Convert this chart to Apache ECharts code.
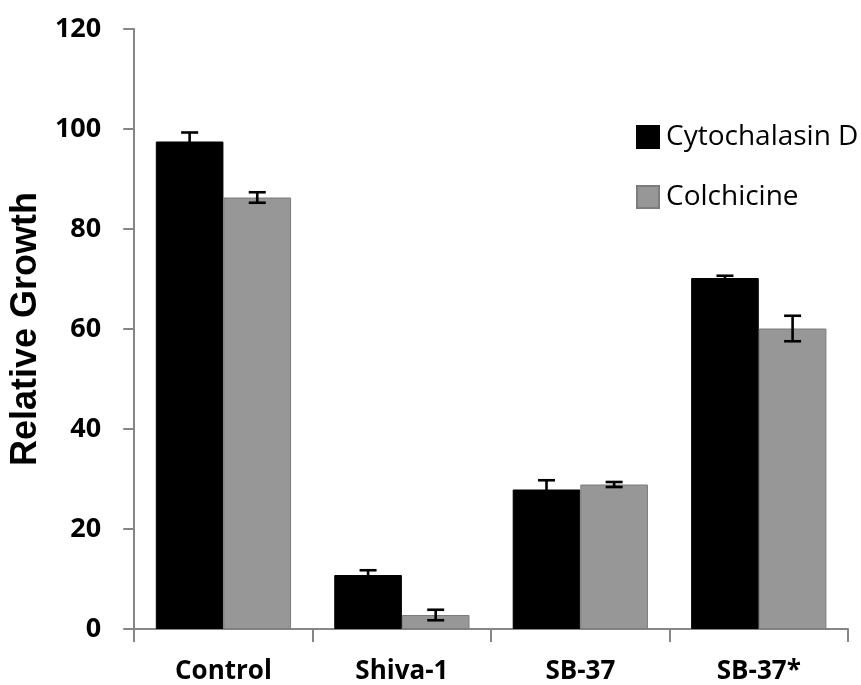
<!DOCTYPE html>
<html>
<head>
<meta charset="utf-8">
<script src="https://cdn.jsdelivr.net/npm/echarts@6/dist/echarts.min.js"></script>
<style>
  html, body { margin: 0; padding: 0; background: #ffffff; }
  #chart { width: 861px; height: 685px; }
</style>
</head>
<body>
<div id="chart"></div>
<script>
// Relative growth under cytoskeletal drugs, mean with error
const categories = ['Control', 'Shiva-1', 'SB-37', 'SB-37*'];
const seriesNames = ['Cytochalasin D', 'Colchicine'];
const cytoValues = [97.5, 10.8, 27.9, 70.2];
const cytoErrors = [1.8, 0.95, 1.85, 0.45];
const colchValues = [86.3, 2.8, 28.9, 60.1];
const colchErrors = [1.05, 1.05, 0.5, 2.55];
const yMin = 0;
const yMax = 120;
const yStep = 20;

const CAT_GAP = 0.242;   // share of each category left empty around the pair of bars
const AXIS_GREY = '#868686';
const BAR_COLORS = ['#000000', '#979797'];

// Error bar: vertical stem plus caps, offset onto the matching bar of the pair
function errorBarRenderer(seriesIdx) {
  return function (params, api) {
    const cat = api.value(0);
    const val = api.value(1);
    const err = api.value(2);
    const bandW = api.size([1, 0])[0];
    const barW = bandW * (1 - CAT_GAP) / 2;
    const dx = seriesIdx === 0 ? -barW / 2 : barW / 2;
    const hi = api.coord([cat, val + err]);
    const lo = api.coord([cat, val - err]);
    const x = hi[0] + dx;
    const half = 8.5;
    const style = { stroke: '#000000', lineWidth: 2.6 };
    return {
      type: 'group',
      children: [
        { type: 'line', shape: { x1: x, y1: hi[1], x2: x, y2: lo[1] }, style: style },
        { type: 'line', shape: { x1: x - half, y1: hi[1], x2: x + half, y2: hi[1] }, style: style },
        { type: 'line', shape: { x1: x - half, y1: lo[1], x2: x + half, y2: lo[1] }, style: style }
      ]
    };
  };
}

const chart = echarts.init(document.getElementById('chart'), null, { renderer: 'canvas' });

chart.setOption({
  backgroundColor: '#ffffff',
  animation: false,
  grid: { left: 131, right: 13, top: 29, bottom: 55, containLabel: false },
  legend: {
    data: seriesNames,
    orient: 'vertical',
    left: 636,
    top: 122,
    padding: 0,
    icon: 'rect',
    itemWidth: 22,
    itemHeight: 22,
    itemGap: 30,
    textStyle: {
      fontFamily: 'Open Sans',
      fontSize: 28,
      color: '#000000',
      lineHeight: 30,
      padding: [0, 0, 0, 2]
    }
  },
  xAxis: {
    type: 'category',
    data: categories,
    boundaryGap: true,
    axisLine: { show: true, lineStyle: { color: AXIS_GREY, width: 2 } },
    axisTick: { show: true, length: 13, interval: 0, lineStyle: { color: AXIS_GREY, width: 2 } },
    axisLabel: {
      interval: 0,
      margin: 30,
      fontFamily: 'Open Sans',
      fontWeight: 'bold',
      fontSize: 26,
      color: '#000000'
    },
    splitLine: { show: false }
  },
  yAxis: {
    type: 'value',
    min: yMin,
    max: yMax,
    interval: yStep,
    name: 'Relative Growth',
    nameLocation: 'middle',
    nameGap: 84,
    nameRotate: 90,
    nameTextStyle: {
      fontFamily: 'Liberation Sans',
      fontWeight: 'bold',
      fontSize: 36,
      color: '#000000'
    },
    axisLine: { show: true, lineStyle: { color: AXIS_GREY, width: 2 } },
    axisTick: { show: true, length: 11, lineStyle: { color: AXIS_GREY, width: 2 } },
    axisLabel: {
      margin: 33,
      fontFamily: 'Open Sans',
      fontWeight: 'bold',
      fontSize: 27,
      color: '#000000'
    },
    splitLine: { show: false }
  },
  series: [
    {
      name: seriesNames[0],
      type: 'bar',
      data: cytoValues,
      barGap: '0%',
      barCategoryGap: (CAT_GAP * 100) + '%',
      itemStyle: { color: BAR_COLORS[0], borderColor: '#000000', borderWidth: 1 }
    },
    {
      name: seriesNames[1],
      type: 'bar',
      data: colchValues,
      barGap: '0%',
      barCategoryGap: (CAT_GAP * 100) + '%',
      itemStyle: { color: BAR_COLORS[1], borderColor: '#7c7c7c', borderWidth: 1 }
    },
    {
      name: 'cyto-error',
      type: 'custom',
      renderItem: errorBarRenderer(0),
      encode: { x: 0, y: 1 },
      data: cytoValues.map((v, i) => [i, v, cytoErrors[i]]),
      z: 10
    },
    {
      name: 'colch-error',
      type: 'custom',
      renderItem: errorBarRenderer(1),
      encode: { x: 0, y: 1 },
      data: colchValues.map((v, i) => [i, v, colchErrors[i]]),
      z: 10
    }
  ]
});
</script>
</body>
</html>
